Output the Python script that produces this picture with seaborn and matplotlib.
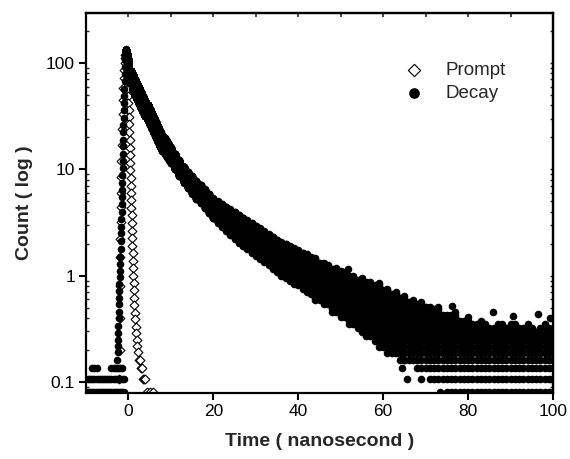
import matplotlib
matplotlib.use("Agg")
import matplotlib.pyplot as plt
import numpy as np
import pandas as pd
import seaborn as sns
from matplotlib.ticker import FixedLocator, LogLocator, NullFormatter

# ----------------------------------------------------------------------------
# Data (counts on the plotted scale)
# ----------------------------------------------------------------------------

COUNT_STEP = 0.027  # one detector count on the plotted scale

# Prompt (instrument response), open diamonds
prompt_time = [-2.3, -2.1, -2.0, -1.95, -1.9, -1.9, -1.85, -1.85, -1.8, -1.75,
               -1.7, -1.6, -1.5, -1.4, -1.3, -1.2, -1.1, -1.0, -0.9, -0.8,
               -0.7, -0.6, -0.5, -0.4, -0.3, -0.2, -0.15, -0.1, -0.05, 0.0,
               0.05, 0.1, 0.15, 0.2, 0.25, 0.3, 0.35, 0.4, 0.45, 0.5,
               0.55, 0.6, 0.65, 0.7, 0.75, 0.8, 0.85, 0.9, 0.95, 1.0,
               1.05, 1.1, 1.15, 1.2, 1.25, 1.3, 1.4, 1.5, 1.6, 1.7,
               1.8, 1.95, 2.1, 2.3, 2.5, 2.7, 2.9, 3.1, 3.4, 3.7,
               4.0, 4.4, 5.0, 5.8]
prompt_count = [0.108, 0.2, 0.4, 0.8, 1.5, 2.2, 3.2, 4.4, 6.0, 8.5,
                12, 17, 24, 33, 45, 58, 72, 86, 100, 112,
                120, 122, 115, 104, 90, 76, 66, 57, 49, 42,
                36, 31, 26.5, 22.5, 19, 16, 13.5, 11.5, 9.8, 8.3,
                7.0, 6.0, 5.1, 4.3, 3.7, 3.1, 2.65, 2.25, 1.9, 1.62,
                1.38, 1.17, 1.0, 0.85, 0.73, 0.62, 0.53, 0.45, 0.39, 0.33,
                0.29, 0.25, 0.22, 0.19, 0.162, 0.162, 0.135, 0.135, 0.108, 0.108,
                0.108, 0.081, 0.081, 0.081]

# Decay: background before the pulse, count range per 0.5 ns bin
bg_time = [-10.0, -9.5, -9.0, -8.5, -8.0, -7.5, -7.0, -6.5, -6.0, -5.5,
           -5.0, -4.5, -4.0, -3.5, -3.0, -2.5, -2.0, -1.5, -1.0]
bg_low = [0.081] * 19
bg_high = [0.081, 0.108, 0.108, 0.135, 0.135, 0.135, 0.108, 0.108, 0.108, 0.108,
           0.108, 0.108, 0.135, 0.135, 0.135, 0.135, 0.135, 0.135, 0.108]

# Decay: rising edge
rise_time = [-2.6, -2.5, -2.45, -2.4, -2.35, -2.35, -2.3, -2.3, -2.25, -2.25,
             -2.2, -2.2, -2.1, -2.0, -1.95, -1.9, -1.85, -1.8, -1.75, -1.7,
             -1.65, -1.6, -1.6, -1.55, -1.5, -1.5, -1.45, -1.4, -1.4, -1.35,
             -1.3, -1.3, -1.25, -1.2, -1.15, -1.1, -1.05, -1.0, -0.95, -0.9,
             -0.85, -0.8, -0.75, -0.7, -0.65]
rise_count = [0.162, 0.19, 0.22, 0.25, 0.29, 0.34, 0.4, 0.46, 0.54, 0.62,
              0.72, 0.84, 0.97, 1.1, 1.3, 1.5, 1.8, 2.1, 2.5, 2.9,
              3.4, 4.0, 4.7, 5.5, 6.4, 7.5, 8.8, 10.3, 12, 14,
              16.5, 19, 22.5, 26, 30.5, 36, 42, 49, 57, 67,
              78, 92, 107, 122, 135]

# Decay: falling part, lowest and highest count seen per time bin
band_time = [-0.6, -0.4, -0.2, 0.0, 0.5, 1.0, 1.5, 2.0, 2.5, 3.0,
             3.5, 4.0, 4.5, 5.0, 5.5, 6.0, 6.5, 7.0, 7.5, 8.0,
             8.5, 9.0, 9.5, 10,
             11, 12, 13, 14, 15, 16, 17, 18, 19, 20,
             21, 22, 23, 24, 25, 26, 27, 28, 29, 30,
             31, 32, 33, 34, 35, 36, 37, 38, 39, 40,
             41, 42, 43, 44, 45, 46, 47, 48, 49, 50,
             51, 52, 53, 54, 55, 56, 57, 58, 59, 60,
             61, 62, 63, 64, 65, 66, 67, 68, 69, 70,
             71, 72, 73, 74, 75, 76, 77, 78, 79, 80,
             81, 82, 83, 84, 85, 86, 87, 88, 89, 90,
             91, 92, 93, 94, 95, 96, 97, 98, 99, 100]
band_high = [132, 122, 110, 96, 84, 77, 70, 64, 58.5, 53,
             48.5, 44.3, 40.5, 36.8, 33.5, 30.5, 27.8, 25.3, 23, 21,
             19.6, 18.3, 17.1, 16.0,
             14.0, 12.2, 10.6, 9.5, 8.64, 7.84, 7.13, 6.48, 5.88, 5.34,
             5.0, 4.72, 4.45, 4.2, 3.96, 3.73, 3.52, 3.32, 3.13, 2.95,
             2.78, 2.62, 2.47, 2.33, 2.2, 2.09, 1.99, 1.9, 1.81, 1.73,
             1.65, 1.60, 1.48, 1.45, 1.33, 1.32, 1.27, 1.17, 1.18, 1.10,
             1.08, 1.00, 1.01, 0.93, 0.94, 0.86, 0.87, 0.80, 0.82, 0.74,
             0.75, 0.68, 0.70, 0.62, 0.66, 0.58, 0.60, 0.54, 0.57, 0.50,
             0.50, 0.48, 0.50, 0.44, 0.44, 0.42, 0.45, 0.39, 0.38, 0.40,
             0.36, 0.36, 0.39, 0.35, 0.33, 0.33, 0.36, 0.36, 0.32, 0.35,
             0.35, 0.32, 0.32, 0.35, 0.33, 0.30, 0.33, 0.35, 0.32, 0.30]
band_low = [118, 104, 90, 76, 64, 56, 50, 45.5, 41.5, 37.8,
            34.6, 31.6, 29, 26.3, 24, 21.8, 19.9, 18.1, 16.4, 15,
            14, 13.1, 12.2, 11.4,
            10, 8.7, 7.5, 6.7, 5.9, 5.3, 4.8, 4.3, 3.85, 3.45,
            3.15, 2.9, 2.65, 2.42, 2.22, 2.05, 1.9, 1.77, 1.65, 1.54,
            1.44, 1.35, 1.26, 1.17, 1.08, 1.0, 0.94, 0.89, 0.84, 0.80,
            0.76, 0.70, 0.68, 0.60, 0.60, 0.53, 0.53, 0.47, 0.46, 0.41,
            0.41, 0.36, 0.36, 0.32, 0.31, 0.28, 0.28, 0.24, 0.22, 0.22,
            0.19, 0.20, 0.18, 0.17, 0.165, 0.16, 0.15, 0.14, 0.135, 0.135,
            0.12, 0.108, 0.108, 0.108, 0.081, 0.081, 0.081, 0.081, 0.081, 0.081,
            0.081, 0.081, 0.081, 0.081, 0.081, 0.081, 0.081, 0.081, 0.081, 0.081,
            0.081, 0.081, 0.081, 0.081, 0.081, 0.081, 0.081, 0.081, 0.081, 0.081]

# Decay: isolated points outside the main band
stray_time = [51.8, 58.9, 64.5, 64.8, 65.6, 68.8, 73.3, 76.3, 85.8, 90.5, 96.5, 99.2]
stray_count = [1.15, 0.86, 0.135, 0.162, 0.108, 0.108, 0.081, 0.52, 0.46, 0.42, 0.44, 0.40]

x_ticks = [0, 20, 40, 60, 80, 100]
y_ticks = [0.1, 1, 10, 100]
y_tick_labels = ["0.1", "1", "10", "100"]


def band_points(times, low, high, step=COUNT_STEP):
    """Every count level (multiples of one count) between low and high."""
    xs, ys = [], []
    for t, a, b in zip(times, low, high):
        for n in range(int(round(a / step)), int(round(b / step)) + 1):
            xs.append(t)
            ys.append(n * step)
    return xs, ys


bx1, by1 = band_points(bg_time, bg_low, bg_high)
bx2, by2 = band_points(band_time, band_low, band_high)

prompt = pd.DataFrame({"time": prompt_time, "count": prompt_count})
decay = pd.DataFrame({
    "time": bx1 + rise_time + bx2 + stray_time,
    "count": by1 + rise_count + by2 + stray_count,
})

# ----------------------------------------------------------------------------
# Plot
# ----------------------------------------------------------------------------

sns.set_style("ticks")
plt.rcParams["font.family"] = ["Liberation Sans", "DejaVu Sans"]

fig = plt.figure(figsize=(5.7, 4.59), dpi=100)
ax = fig.add_axes([86 / 570, 66 / 459, 467 / 570, 380 / 459])

sns.scatterplot(data=prompt, x="time", y="count", ax=ax, marker="D", s=20,
                color="white", edgecolor="black", linewidth=0.8,
                label="Prompt", zorder=2)
sns.scatterplot(data=decay, x="time", y="count", ax=ax, marker="o", s=30,
                color="black", edgecolor="black", linewidth=0,
                label="Decay", zorder=3)

ax.set_yscale("log")
ax.set_xlim(-10, 100)
ax.set_ylim(0.079, 295)

ax.set_xticks(x_ticks)
ax.set_xticklabels([str(v) for v in x_ticks])
ax.yaxis.set_major_locator(FixedLocator(y_ticks))
ax.set_yticklabels(y_tick_labels)
ax.yaxis.set_minor_locator(LogLocator(base=10, subs=np.arange(2, 10)))
ax.yaxis.set_minor_formatter(NullFormatter())

ax.tick_params(axis="both", which="major", direction="out", length=5,
               width=1.5, labelsize=12.5, pad=3, colors="black")
ax.tick_params(axis="y", which="minor", direction="in", length=2.5, width=1)
ax.tick_params(axis="x", which="minor", bottom=False)

# small inward ticks on the top and right frame
secx = ax.secondary_xaxis("top")
secx.set_xticks(list(range(-10, 101, 10)))
secx.tick_params(direction="in", length=3, width=1.2, labeltop=False)
secy = ax.secondary_yaxis("right")
secy.yaxis.set_major_locator(FixedLocator(y_ticks))
secy.yaxis.set_minor_locator(LogLocator(base=10, subs=np.arange(2, 10)))
secy.tick_params(which="both", direction="in", length=2.5, width=1,
                 labelright=False)
secy.yaxis.set_minor_formatter(NullFormatter())

for a in (ax, secx, secy):
    for s in a.spines.values():
        s.set_linewidth(1.6)
        s.set_color("black")

ax.set_xlabel("Time ( nanosecond )", fontsize=14, fontweight="bold", labelpad=10)
ax.set_ylabel("Count ( log )", fontsize=14, fontweight="bold", labelpad=9)

ax.legend(loc="upper left", bbox_to_anchor=(0.662, 0.872), frameon=False,
          fontsize=13.5, markerscale=1.4, borderaxespad=0, borderpad=0,
          handlelength=2.0, handletextpad=0.7, labelspacing=0.3)

fig.savefig("out.png", dpi=100)
